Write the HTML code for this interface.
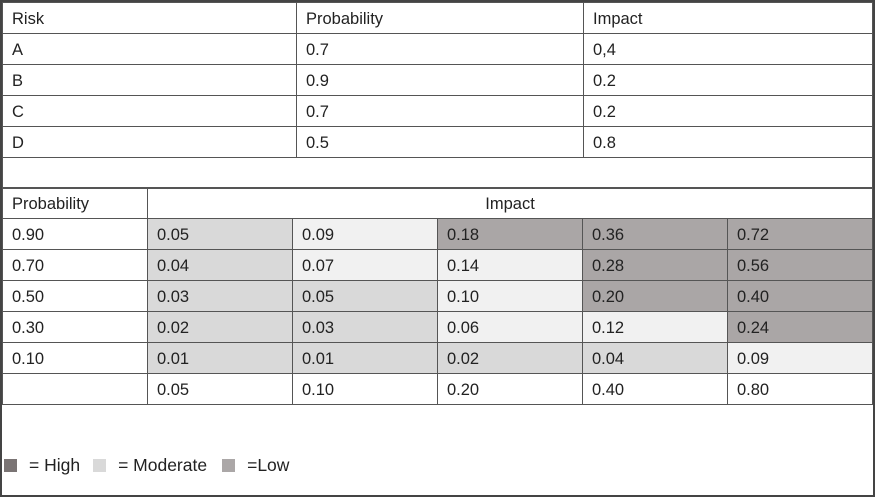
<!DOCTYPE html>
<html><head><meta charset="utf-8"><style>
body{margin:0;width:875px;height:497px;position:relative;background:#fff;font-family:"Liberation Sans",Arial,sans-serif;font-size:16.5px;color:#222;overflow:hidden}
.frame{position:absolute;left:0;top:0;width:871px;height:493px;border:2px solid #444}
table{position:absolute;border-collapse:collapse;table-layout:fixed}
td{border:1px solid #555;padding:2px 0 0 9px;height:28px;white-space:nowrap;overflow:hidden}
.m{background:#d9d9d9}.l{background:#f1f1f1}.d{background:#aaa6a6}
.lg{position:absolute;top:455px;left:4px;font-size:17.5px;display:flex;align-items:center}
.sq{display:inline-block;width:13px;height:13px}
</style></head><body>
<div class="frame"></div>
<table style="left:2px;top:2px;width:870px">
<colgroup><col style="width:294px"><col style="width:287px"><col style="width:289px"></colgroup>
<tr><td>Risk</td><td>Probability</td><td>Impact</td></tr>
<tr><td>A</td><td>0.7</td><td>0,4</td></tr>
<tr><td>B</td><td>0.9</td><td>0.2</td></tr>
<tr><td>C</td><td>0.7</td><td>0.2</td></tr>
<tr><td>D</td><td>0.5</td><td>0.8</td></tr>
<tr><td colspan="3"></td></tr>
</table>
<table style="left:2px;top:187px;width:870px">
<colgroup><col style="width:145px"><col style="width:145px"><col style="width:145px"><col style="width:145px"><col style="width:145px"><col style="width:145px"></colgroup>
<tr><td>Probability</td><td colspan="5" style="text-align:center;padding:2px 0 0 0">Impact</td></tr>
<tr><td>0.90</td><td class="m">0.05</td><td class="l">0.09</td><td class="d">0.18</td><td class="d">0.36</td><td class="d">0.72</td></tr>
<tr><td>0.70</td><td class="m">0.04</td><td class="l">0.07</td><td class="l">0.14</td><td class="d">0.28</td><td class="d">0.56</td></tr>
<tr><td>0.50</td><td class="m">0.03</td><td class="m">0.05</td><td class="l">0.10</td><td class="d">0.20</td><td class="d">0.40</td></tr>
<tr><td>0.30</td><td class="m">0.02</td><td class="m">0.03</td><td class="l">0.06</td><td class="l">0.12</td><td class="d">0.24</td></tr>
<tr><td>0.10</td><td class="m">0.01</td><td class="m">0.01</td><td class="m">0.02</td><td class="m">0.04</td><td class="l">0.09</td></tr>
<tr><td></td><td>0.05</td><td>0.10</td><td>0.20</td><td>0.40</td><td>0.80</td></tr>
</table>
<div class="lg"><span class="sq" style="background:#7a7474;margin-right:12px"></span><span style="margin-right:13px">= High</span><span class="sq" style="background:#d9d9d9;margin-right:12px"></span><span style="margin-right:15px">= Moderate</span><span class="sq" style="background:#aba7a7;margin-right:12px"></span><span>=Low</span></div>
</body></html>
